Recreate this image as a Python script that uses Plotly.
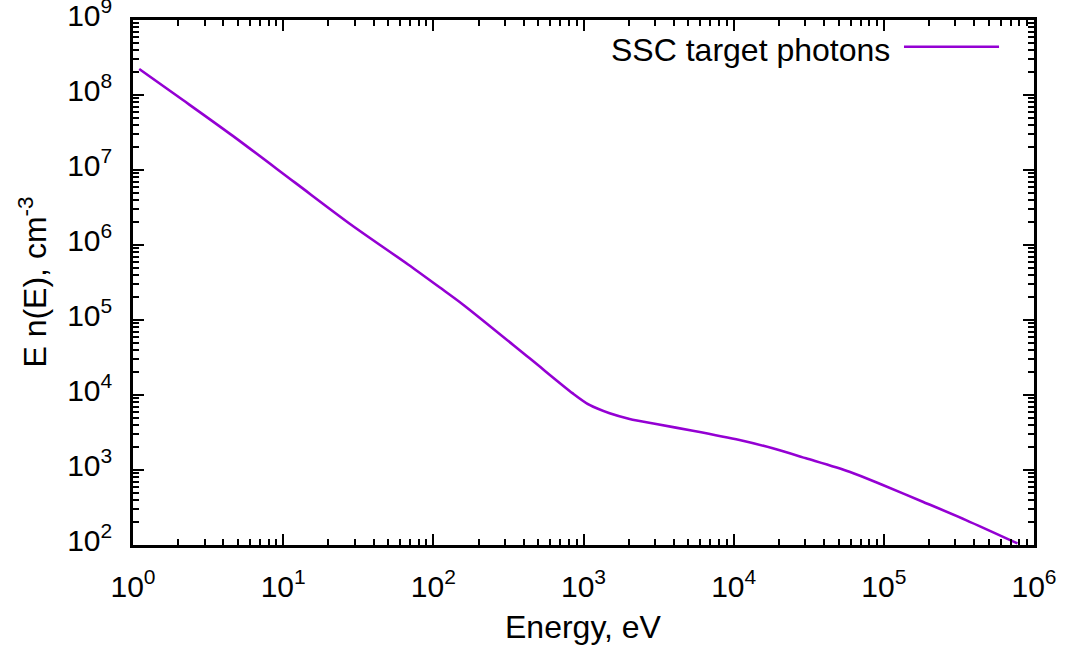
import plotly.graph_objects as go

# Data
energy_ev = [1.10, 2.15, 4.62, 12.0, 28.5, 67.9, 110, 158, 438, 849, 1096, 1493, 2028,
             3048, 5346, 10940, 18200, 30340, 59020, 98400, 181600, 352400, 776200]
density = [2.22e8, 8.57e7, 2.85e7, 6.78e6, 1.85e6, 5.50e5, 2.73e5, 1.60e5, 3.08e4, 1.05e4,
           7360, 5700, 4790, 4100, 3340, 2510, 1945, 1432, 948, 631, 378, 215, 105]

series_name = "SSC target photons"
x_title = "Energy, eV"
y_title = "E n(E), cm<sup>-3</sup>"
x_tick_vals = [1, 10, 100, 1e3, 1e4, 1e5, 1e6]
x_tick_text = ["10<sup>0</sup>", "10<sup>1</sup>", "10<sup>2</sup>", "10<sup>3</sup>",
               "10<sup>4</sup>", "10<sup>5</sup>", "10<sup>6</sup>"]
y_tick_vals = [1e2, 1e3, 1e4, 1e5, 1e6, 1e7, 1e8, 1e9]
y_tick_text = ["10<sup>2</sup>", "10<sup>3</sup>", "10<sup>4</sup>", "10<sup>5</sup>",
               "10<sup>6</sup>", "10<sup>7</sup>", "10<sup>8</sup>", "10<sup>9</sup>"]

COLOR = "#9400D3"
FONT = "Liberation Sans, Arial, Helvetica, sans-serif"
TICK_SIZE = 30
TEXT_SIZE = 32

def minor_vals(lo, hi):
    return [m * 10 ** e for e in range(lo, hi) for m in range(2, 10)]

fig = go.Figure()
fig.add_trace(go.Scatter(x=energy_ev, y=density, mode="lines", name=series_name,
                         line=dict(color=COLOR, width=2.6, shape="spline", smoothing=0.8),
                         showlegend=False, hoverinfo="skip"))

axis_common = dict(
    type="log", showgrid=False, zeroline=False, automargin=False,
    showline=True, linecolor="black", linewidth=2.5, mirror="allticks",
    ticks="inside", ticklen=11, tickwidth=2, tickcolor="black",
    tickfont=dict(family=FONT, size=TICK_SIZE, color="black"),
    ticklabeloverflow="allow",
)

fig.update_xaxes(
    **axis_common,
    range=[0, 6],
    tickvals=x_tick_vals, ticktext=x_tick_text,
    minor=dict(ticks="inside", ticklen=6, tickwidth=2, tickcolor="black",
               tickvals=minor_vals(0, 6)),
    ticklabelstandoff=13,
)
fig.update_yaxes(
    **axis_common,
    range=[2, 9],
    tickvals=y_tick_vals, ticktext=y_tick_text,
    minor=dict(ticks="inside", ticklen=6, tickwidth=2, tickcolor="black",
               tickvals=minor_vals(2, 9)),
    ticklabelstandoff=12,
    ticklabelshift=-5,
)

# axis titles
fig.add_annotation(xref="paper", yref="paper", x=0.5, y=-0.156, xanchor="center",
                   yanchor="middle", text=x_title, showarrow=False,
                   font=dict(family=FONT, size=TEXT_SIZE, color="black"))
fig.add_annotation(xref="paper", yref="paper", x=-0.112, y=0.5, xanchor="center",
                   yanchor="middle", text=y_title, showarrow=False, textangle=-90,
                   font=dict(family=FONT, size=TEXT_SIZE, color="black"))

# gnuplot-style key: text followed by a line sample
fig.add_annotation(xref="paper", yref="paper", x=0.8424, y=0.943, xanchor="right",
                   yanchor="middle", text=series_name, showarrow=False,
                   font=dict(family=FONT, size=TEXT_SIZE, color="black"))
fig.add_shape(type="line", xref="paper", yref="paper", x0=0.8557, x1=0.9612,
              y0=0.949, y1=0.949, line=dict(color=COLOR, width=2.6))

fig.update_layout(
    width=1069, height=655,
    margin=dict(l=133, r=35, t=20, b=110),
    paper_bgcolor="white", plot_bgcolor="white",
    font=dict(family=FONT, size=TEXT_SIZE, color="black"),
)

# remove the default 8px page margin so the figure fills the window exactly
fig.write_html("out.html",
               config={"displayModeBar": False},
               post_script="document.body.style.margin='0';document.body.style.overflow='hidden';")
